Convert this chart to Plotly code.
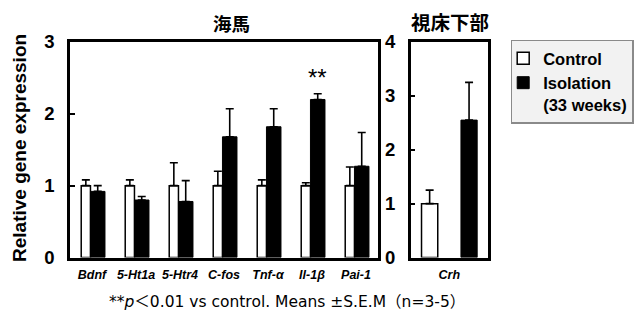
import plotly.graph_objects as go

# ---- data ----
genes_hip = ["Bdnf", "5-Ht1a", "5-Htr4", "C-fos", "Tnf-α", "Il-1β", "Pai-1"]
ctrl_hip = [1.0, 1.0, 1.0, 1.0, 1.0, 1.0, 1.0]
ctrl_hip_err = [0.08, 0.08, 0.32, 0.20, 0.08, 0.04, 0.26]
iso_hip = [0.92, 0.80, 0.78, 1.68, 1.82, 2.20, 1.27]
iso_hip_err = [0.08, 0.05, 0.29, 0.39, 0.25, 0.08, 0.47]

genes_hyp = ["Crh"]
ctrl_hyp = [1.0]
ctrl_hyp_err = [0.25]
iso_hyp = [2.55]
iso_hyp_err = [0.70]

y_ticks_hip = [0, 1, 2, 3]
y_ticks_hyp = [0, 1, 2, 3, 4]

# page body has an 8px margin; figure is sized so the page fills the window
OFF = 8
W, H = 642 - 2 * OFF, 320 - 2 * OFF
def px(x):
    return (x - OFF) / W
def py(y):
    return (H - (y - OFF)) / H

F = "Arial, Liberation Sans, sans-serif"
CJK = "Noto Sans CJK JP"

fig = go.Figure()
xh = list(range(len(genes_hip)))
xy = list(range(len(genes_hyp)))

err_style = dict(type="data", symmetric=False, color="black", thickness=1.6, width=4)

fig.add_trace(go.Bar(
    x=xh, y=ctrl_hip, name="Control", offset=-0.245, width=0.21,
    marker=dict(color="white", line=dict(color="black", width=1.5)),
    error_y=dict(array=ctrl_hip_err, arrayminus=[0]*len(ctrl_hip), **err_style),
    xaxis="x", yaxis="y", legendgroup="c", showlegend=True))
fig.add_trace(go.Bar(
    x=xh, y=iso_hip, name="Isolation<br>(33 weeks)", offset=-0.035, width=0.33,
    marker=dict(color="black", line=dict(color="black", width=1.0)),
    error_y=dict(array=iso_hip_err, arrayminus=[0]*len(iso_hip), **err_style),
    xaxis="x", yaxis="y", legendgroup="i", showlegend=True))
fig.add_trace(go.Bar(
    x=xy, y=ctrl_hyp, name="Control", offset=-0.36, width=0.21,
    marker=dict(color="white", line=dict(color="black", width=1.5)),
    error_y=dict(array=ctrl_hyp_err, arrayminus=[0], **err_style),
    xaxis="x2", yaxis="y2", legendgroup="c", showlegend=False))
fig.add_trace(go.Bar(
    x=xy, y=iso_hyp, name="Isolation", offset=0.15, width=0.21,
    marker=dict(color="black", line=dict(color="black", width=1.0)),
    error_y=dict(array=iso_hyp_err, arrayminus=[0], **err_style),
    xaxis="x2", yaxis="y2", legendgroup="i", showlegend=False))

ydom = [py(257.5), py(42)]
axis_common = dict(showline=True, linecolor="black", linewidth=2.5, mirror=True,
                   showgrid=False, zeroline=False)
fig.update_layout(
    width=W, height=H,
    margin=dict(l=0, r=0, t=0, b=0, autoexpand=False),
    paper_bgcolor="white", plot_bgcolor="white",
    showlegend=True,
    xaxis=dict(domain=[px(70), px(378)], range=[-0.5, len(genes_hip) - 0.5],
               tickvals=xh, ticktext=genes_hip, ticks="",
               tickfont=dict(family=F, size=12.5, color="black", weight="bold", style="italic"),
               ticklabelstandoff=4, automargin=False, **axis_common),
    yaxis=dict(domain=ydom, range=[0, 3], tickvals=y_ticks_hip, ticks="inside",
               ticklen=5, tickwidth=1.5, tickcolor="black",
               tickfont=dict(family=F, size=18.5, color="black", weight="bold"),
               ticklabelstandoff=9, automargin=False, **axis_common),
    xaxis2=dict(domain=[px(410.7), px(488)], range=[-0.5, 0.5],
                tickvals=xy, ticktext=genes_hyp, ticks="", anchor="y2",
                tickfont=dict(family=F, size=12.5, color="black", weight="bold", style="italic"),
                ticklabelstandoff=4, automargin=False, **axis_common),
    yaxis2=dict(domain=ydom, range=[0, 4], tickvals=y_ticks_hyp, ticks="inside",
                ticklen=5, tickwidth=1.5, tickcolor="black", anchor="x2",
                tickfont=dict(family=F, size=18.5, color="black", weight="bold"),
                ticklabelstandoff=9, automargin=False, **axis_common),
    legend=dict(x=px(510.7), y=py(39.5), xanchor="left", yanchor="top",
                bgcolor="#f2f2f2", bordercolor="#8a8a8a", borderwidth=1.5,
                font=dict(family=F, size=16.5, color="black", weight="bold"),
                valign="top", traceorder="normal", itemwidth=30, indentation=-9),
)

fig.add_annotation(text="Relative gene expression", x=px(19), y=py(148), xref="paper", yref="paper",
                   xanchor="center", yanchor="middle", textangle=-90, showarrow=False,
                   font=dict(family=F, size=19, color="black", weight="bold"))
fig.add_annotation(text="海馬", x=px(231), y=py(23), xref="paper", yref="paper", showarrow=False,
                   xanchor="center", yanchor="middle",
                   font=dict(family=CJK, size=18.5, color="black", weight="bold"))
fig.add_annotation(text="視床下部", x=px(449.5), y=py(22), xref="paper", yref="paper", showarrow=False,
                   xanchor="center", yanchor="middle",
                   font=dict(family=CJK, size=19.5, color="black", weight="bold"))
fig.add_annotation(text="**", x=xh[5] + 0.13, y=iso_hip[5] + iso_hip_err[5], xref="x", yref="y",
                   xanchor="center", yanchor="bottom", yshift=1, showarrow=False,
                   font=dict(family=F, size=24, color="black"))
fig.add_annotation(text="**<i>p</i>＜0.01 vs control. Means ±S.E.M（n=3-5）",
                   x=px(287), y=py(302), xref="paper", yref="paper", showarrow=False,
                   xanchor="center", yanchor="middle",
                   font=dict(family="DejaVu Sans, Noto Sans CJK JP", size=15.5, color="black"))

fig.write_html("out.html")
